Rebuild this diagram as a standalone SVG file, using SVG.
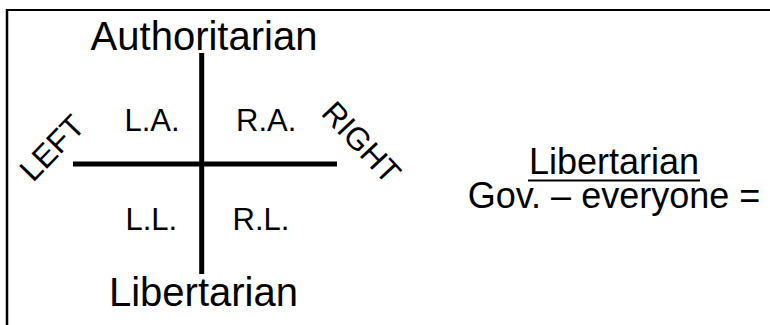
<svg xmlns="http://www.w3.org/2000/svg" width="770" height="325" viewBox="0 0 770 325">
  <style>
    text { font-family: "Liberation Sans", Arial, sans-serif; fill: #000; }
    .axis-title { font-size: 40px; text-anchor: middle; }
    .quad { font-size: 31px; }
    .dir { font-size: 31.5px; }
    .note { font-size: 36px; text-anchor: middle; }
    .axis { stroke: #000; stroke-width: 5; fill: none; }
    .frame { stroke: #000; fill: none; }
  </style>
  <rect width="770" height="325" fill="#fff"/>
  <!-- page frame (top and left edges) -->
  <g id="frame">
    <line class="frame" x1="6" y1="10" x2="770" y2="10" stroke-width="2"/>
    <line class="frame" x1="7" y1="9" x2="7" y2="325" stroke-width="2.5"/>
  </g>
  <!-- the two axes of the compass -->
  <g id="connectors">
    <line class="axis" x1="201.7" y1="53" x2="201.7" y2="274"/>
    <line class="axis" x1="73" y1="164" x2="337" y2="164"/>
  </g>
  <g id="authoritarian"><text class="axis-title" x="204" y="50">Authoritarian</text></g>
  <g id="libertarian"><text class="axis-title" x="203.5" y="306">Libertarian</text></g>
  <g id="left"><text class="dir" transform="translate(33,183) rotate(-46)">LEFT</text></g>
  <g id="right"><text class="dir" transform="translate(320,114) rotate(47)">RIGHT</text></g>
  <g id="la"><text class="quad" x="124.5" y="131">L.A.</text></g>
  <g id="ra"><text class="quad" x="236" y="131">R.A.</text></g>
  <g id="ll"><text class="quad" x="125.5" y="230">L.L.</text></g>
  <g id="rl"><text class="quad" x="232.5" y="230">R.L.</text></g>
  <g id="definition">
    <text class="note" x="614" y="173.5">Libertarian</text>
    <line x1="528" y1="180.5" x2="700" y2="180.5" stroke="#000" stroke-width="2"/>
    <text class="note" x="614" y="208">Gov. – everyone =</text>
  </g>
</svg>
